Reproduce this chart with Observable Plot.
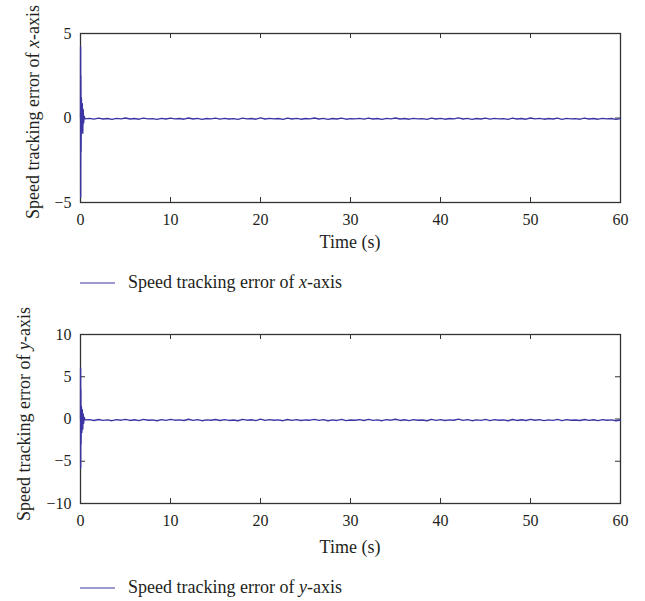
<!DOCTYPE html>
<html>
<head>
<meta charset="utf-8">
<script src="https://cdn.jsdelivr.net/npm/d3@7"></script>
<script src="https://cdn.jsdelivr.net/npm/@observablehq/plot@0.6"></script>
<style>
  body { margin: 0; background: #fff; }
  #wrap { position: relative; width: 645px; height: 601px; font-family: "Liberation Serif", "Times New Roman", serif; color: #231f20; }
  .ylab { position: absolute; white-space: nowrap; font-size: 18px; transform: translate(-50%, -50%) rotate(-90deg); }
  .xlab { position: absolute; white-space: nowrap; font-size: 18px; transform: translate(-50%, -50%); }
  .legend { position: absolute; white-space: nowrap; font-size: 18px; display: flex; align-items: center; }
  .legend svg { margin-right: 13px; }
</style>
</head>
<body>
<div id="wrap"></div>
<script>
// ---- data ----
const xTicks = [0, 10, 20, 30, 40, 50, 60];
const yTicksX = [-5, 0, 5];
const yTicksY = [-10, -5, 0, 5, 10];

const time = [
  0, 0.01, 0.02, 0.04, 0.06, 0.1, 0.15, 0.2, 0.25, 0.3, 0.35, 0.4, 0.5,
  1, 1.5, 2, 2.5, 3, 3.5, 4, 4.5, 5, 5.5, 6, 6.5, 7, 7.5, 8, 8.5, 9, 9.5, 10, 10.5,
  11, 11.5, 12, 12.5, 13, 13.5, 14, 14.5, 15, 15.5, 16, 16.5, 17, 17.5, 18, 18.5, 19, 19.5, 20, 20.5,
  21, 21.5, 22, 22.5, 23, 23.5, 24, 24.5, 25, 25.5, 26, 26.5, 27, 27.5, 28, 28.5, 29, 29.5, 30, 30.5,
  31, 31.5, 32, 32.5, 33, 33.5, 34, 34.5, 35, 35.5, 36, 36.5, 37, 37.5, 38, 38.5, 39, 39.5, 40, 40.5,
  41, 41.5, 42, 42.5, 43, 43.5, 44, 44.5, 45, 45.5, 46, 46.5, 47, 47.5, 48, 48.5, 49, 49.5, 50, 50.5,
  51, 51.5, 52, 52.5, 53, 53.5, 54, 54.5, 55, 55.5, 56, 56.5, 57, 57.5, 58, 58.5, 59, 59.5, 60
];

const errX = [
  0, 4.2, -4.7, 2.5, -2.0, 1.2, -0.8, 0.85, -0.9, 0.5, -0.3, 0.1, -0.05,
  -0.02,-0.07,-0.01,-0.06,-0.03,-0.08,-0.02,-0.05,0.00,-0.06,
  -0.03,-0.07,-0.01,-0.05,-0.04,-0.08,-0.02,-0.06,-0.01,-0.05,
  -0.03,-0.07,0.00,-0.06,-0.02,-0.08,-0.03,-0.05,-0.01,-0.07,
  -0.02,-0.06,-0.04,-0.08,-0.01,-0.05,-0.03,-0.07,0.01,-0.06,
  -0.02,-0.05,-0.03,-0.08,-0.01,-0.06,-0.02,-0.07,-0.03,-0.05,
  0.00,-0.06,-0.02,-0.08,-0.03,-0.06,-0.01,-0.07,-0.04,-0.05,
  -0.02,-0.07,-0.01,-0.06,-0.03,-0.08,-0.02,-0.05,0.00,-0.06,
  -0.03,-0.07,-0.02,-0.05,-0.04,-0.08,-0.01,-0.06,-0.02,-0.07,
  -0.03,-0.05,0.01,-0.06,-0.02,-0.08,-0.03,-0.06,-0.01,-0.07,
  -0.02,-0.05,-0.04,-0.08,-0.01,-0.06,-0.03,-0.07,0.00,-0.05,
  -0.02,-0.07,-0.03,-0.06,-0.01,-0.08,-0.02,-0.05,-0.04,-0.07,
  -0.01,-0.06,-0.03,-0.07,-0.02,-0.05,-0.03,-0.08,-0.04
];

const errY = [
  0, 6.0, -5.8, 3.5, -3.0, 1.5, -1.6, 1.1, -1.2, 0.6, -0.5, 0.2, -0.1,
  -0.08,-0.18,-0.06,-0.16,-0.10,-0.20,-0.07,-0.14,-0.04,-0.17,
  -0.09,-0.19,-0.05,-0.15,-0.11,-0.21,-0.08,-0.16,-0.05,-0.14,
  -0.10,-0.18,-0.03,-0.16,-0.08,-0.20,-0.10,-0.15,-0.06,-0.18,
  -0.07,-0.17,-0.12,-0.21,-0.05,-0.14,-0.09,-0.19,-0.02,-0.16,
  -0.08,-0.15,-0.10,-0.20,-0.06,-0.17,-0.07,-0.18,-0.11,-0.14,
  -0.04,-0.16,-0.08,-0.21,-0.10,-0.17,-0.05,-0.19,-0.12,-0.15,
  -0.07,-0.18,-0.05,-0.16,-0.10,-0.20,-0.08,-0.14,-0.03,-0.17,
  -0.09,-0.19,-0.07,-0.15,-0.12,-0.21,-0.05,-0.16,-0.08,-0.18,
  -0.10,-0.15,-0.02,-0.17,-0.07,-0.20,-0.10,-0.16,-0.05,-0.19,
  -0.08,-0.14,-0.11,-0.21,-0.06,-0.17,-0.09,-0.18,-0.04,-0.15,
  -0.07,-0.19,-0.10,-0.16,-0.05,-0.20,-0.08,-0.14,-0.12,-0.18,
  -0.06,-0.16,-0.09,-0.19,-0.07,-0.15,-0.10,-0.20,-0.12
];

// ---- rendering ----
const LINE = "#3b35a3";
const FONT = "Liberation Serif, Times New Roman, serif";
const W = 645, ML = 80, MR = 25;
const FW = W - ML - MR, FH = 169;

function chart(values, yDomain, yTicks, height, mt) {
  const data = time.map((t, i) => ({t, v: values[i]}));
  return Plot.plot({
    width: W, height,
    marginLeft: ML, marginRight: MR, marginTop: mt, marginBottom: height - mt - FH,
    style: {fontSize: "16px", fontFamily: FONT, color: "#231f20", background: "transparent", overflow: "visible"},
    x: {domain: [0, 60]},
    y: {domain: yDomain},
    marks: [
      Plot.axisX(xTicks, {tickSize: 0, tickPadding: 11, label: null}),
      Plot.axisY(yTicks, {tickSize: 0, tickPadding: 9, label: null}),
      Plot.tickX(xTicks, {x: d => d, insetTop: FH - 5, stroke: "#333", strokeWidth: 1}),
      Plot.tickX(xTicks, {x: d => d, insetBottom: FH - 5, stroke: "#333", strokeWidth: 1}),
      Plot.tickY(yTicks, {y: d => d, insetRight: FW - 5, stroke: "#333", strokeWidth: 1}),
      Plot.tickY(yTicks, {y: d => d, insetLeft: FW - 5, stroke: "#333", strokeWidth: 1}),
      Plot.frame({stroke: "#333", strokeWidth: 1.3}),
      Plot.line(data, {x: "t", y: "v", stroke: LINE, strokeWidth: 1.4})
    ]
  });
}

const wrap = document.getElementById("wrap");

function place(el, top) {
  el.style.position = "absolute";
  el.style.left = "0px";
  el.style.top = top + "px";
  wrap.appendChild(el);
}

place(chart(errX, [-5, 5], yTicksX, 262, 33), 0);
place(chart(errY, [-10, 10], yTicksY, 230, 34), 300);

function addHTML(html) { wrap.insertAdjacentHTML("beforeend", html); }

const swatch = `<svg width="35" height="4"><line x1="0" x2="35" y1="2" y2="2" stroke="${LINE}" stroke-width="1.2"/></svg>`;

addHTML(`<div class="ylab" style="left:33px;top:112px">Speed tracking error of <i>x</i>-axis</div>`);
addHTML(`<div class="ylab" style="left:24px;top:414px">Speed tracking error of <i>y</i>-axis</div>`);
addHTML(`<div class="xlab" style="left:350px;top:242px">Time (s)</div>`);
addHTML(`<div class="xlab" style="left:350px;top:547px">Time (s)</div>`);
addHTML(`<div class="legend" style="left:80px;top:272px">${swatch}Speed tracking error of&nbsp;<i>x</i>-axis</div>`);
addHTML(`<div class="legend" style="left:80px;top:577px">${swatch}Speed tracking error of&nbsp;<i>y</i>-axis</div>`);
</script>
</body>
</html>
